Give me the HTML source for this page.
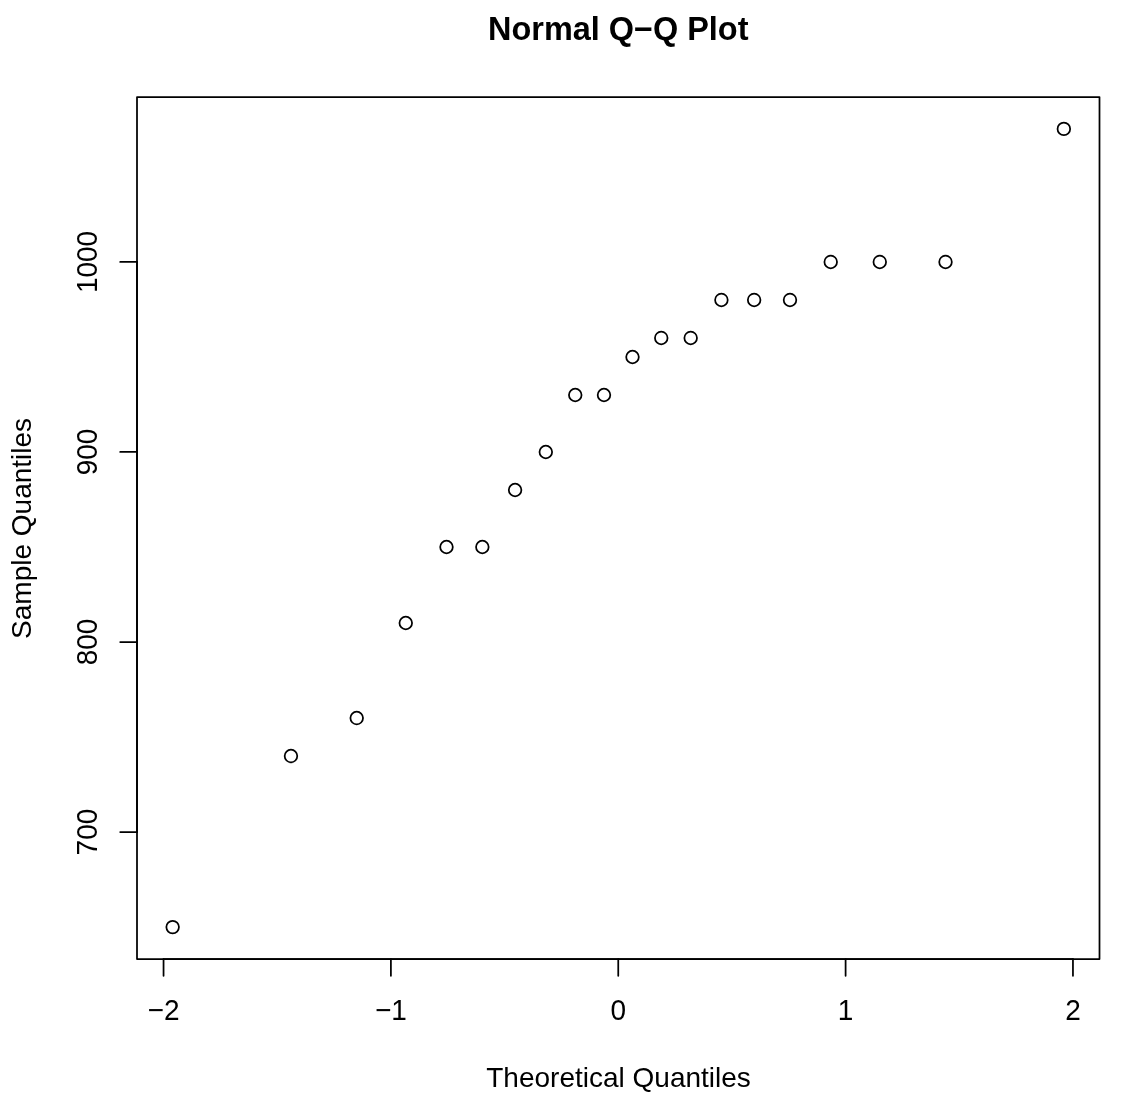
<!DOCTYPE html>
<html lang="en"><head><meta charset="utf-8"><title>Normal Q-Q Plot</title>
<style>html,body{margin:0;padding:0;background:#fff}body{width:1132px;height:1101px;overflow:hidden}svg{display:block}text{font-family:"Liberation Sans",Arial,Helvetica,sans-serif;fill:#000}</style>
</head><body>
<svg width="1132" height="1101" viewBox="0 0 1132 1101">
<rect x="0" y="0" width="1132" height="1101" fill="#fff"/>
<g fill="none" stroke="#000" stroke-width="1.75">
<circle cx="172.65" cy="927.07" r="6.30"/>
<circle cx="290.97" cy="756.04" r="6.30"/>
<circle cx="356.72" cy="718.04" r="6.30"/>
<circle cx="405.77" cy="623.02" r="6.30"/>
<circle cx="446.50" cy="547.00" r="6.30"/>
<circle cx="482.35" cy="547.00" r="6.30"/>
<circle cx="515.09" cy="489.99" r="6.30"/>
<circle cx="545.81" cy="451.99" r="6.30"/>
<circle cx="575.25" cy="394.98" r="6.30"/>
<circle cx="603.99" cy="394.98" r="6.30"/>
<circle cx="632.51" cy="356.97" r="6.30"/>
<circle cx="661.25" cy="337.96" r="6.30"/>
<circle cx="690.69" cy="337.96" r="6.30"/>
<circle cx="721.41" cy="299.96" r="6.30"/>
<circle cx="754.15" cy="299.96" r="6.30"/>
<circle cx="790.00" cy="299.96" r="6.30"/>
<circle cx="830.73" cy="261.95" r="6.30"/>
<circle cx="879.78" cy="261.95" r="6.30"/>
<circle cx="945.53" cy="261.95" r="6.30"/>
<circle cx="1063.85" cy="128.93" r="6.30"/>
</g>
<g fill="none" stroke="#000" stroke-width="1.75" stroke-linecap="round" stroke-linejoin="round">
<path d="M163.55 959.00H1072.95"/>
<path d="M163.55 959.00v16.80"/>
<path d="M390.90 959.00v16.80"/>
<path d="M618.25 959.00v16.80"/>
<path d="M845.60 959.00v16.80"/>
<path d="M1072.95 959.00v16.80"/>
<path d="M137.00 832.06V261.95"/>
<path d="M137.00 832.06h-16.80"/>
<path d="M137.00 642.02h-16.80"/>
<path d="M137.00 451.99h-16.80"/>
<path d="M137.00 261.95h-16.80"/>
<rect x="137.00" y="97.00" width="962.50" height="862.00"/>
</g>
<g font-size="28" text-anchor="middle">
<text transform="translate(163.55 1019.60) scale(1 1.05)">−2</text>
<text transform="translate(390.90 1019.60) scale(1 1.05)">−1</text>
<text transform="translate(618.25 1019.60) scale(1 1.05)">0</text>
<text transform="translate(845.60 1019.60) scale(1 1.05)">1</text>
<text transform="translate(1072.95 1019.60) scale(1 1.05)">2</text>
<text transform="translate(97.00 832.06) rotate(-90) scale(1 1.05)">700</text>
<text transform="translate(97.00 642.02) rotate(-90) scale(1 1.05)">800</text>
<text transform="translate(97.00 451.99) rotate(-90) scale(1 1.05)">900</text>
<text transform="translate(97.00 261.95) rotate(-90) scale(1 1.05)">1000</text>
<text transform="translate(618.55 1086.80) scale(1 1)">Theoretical Quantiles</text>
<text transform="translate(30.70 528.40) rotate(-90) scale(1 1)">Sample Quantiles</text>
</g>
<text x="618.25" y="39.80" font-size="32.45" font-weight="bold" text-anchor="middle">Normal Q−Q Plot</text>
</svg>
</body></html>
